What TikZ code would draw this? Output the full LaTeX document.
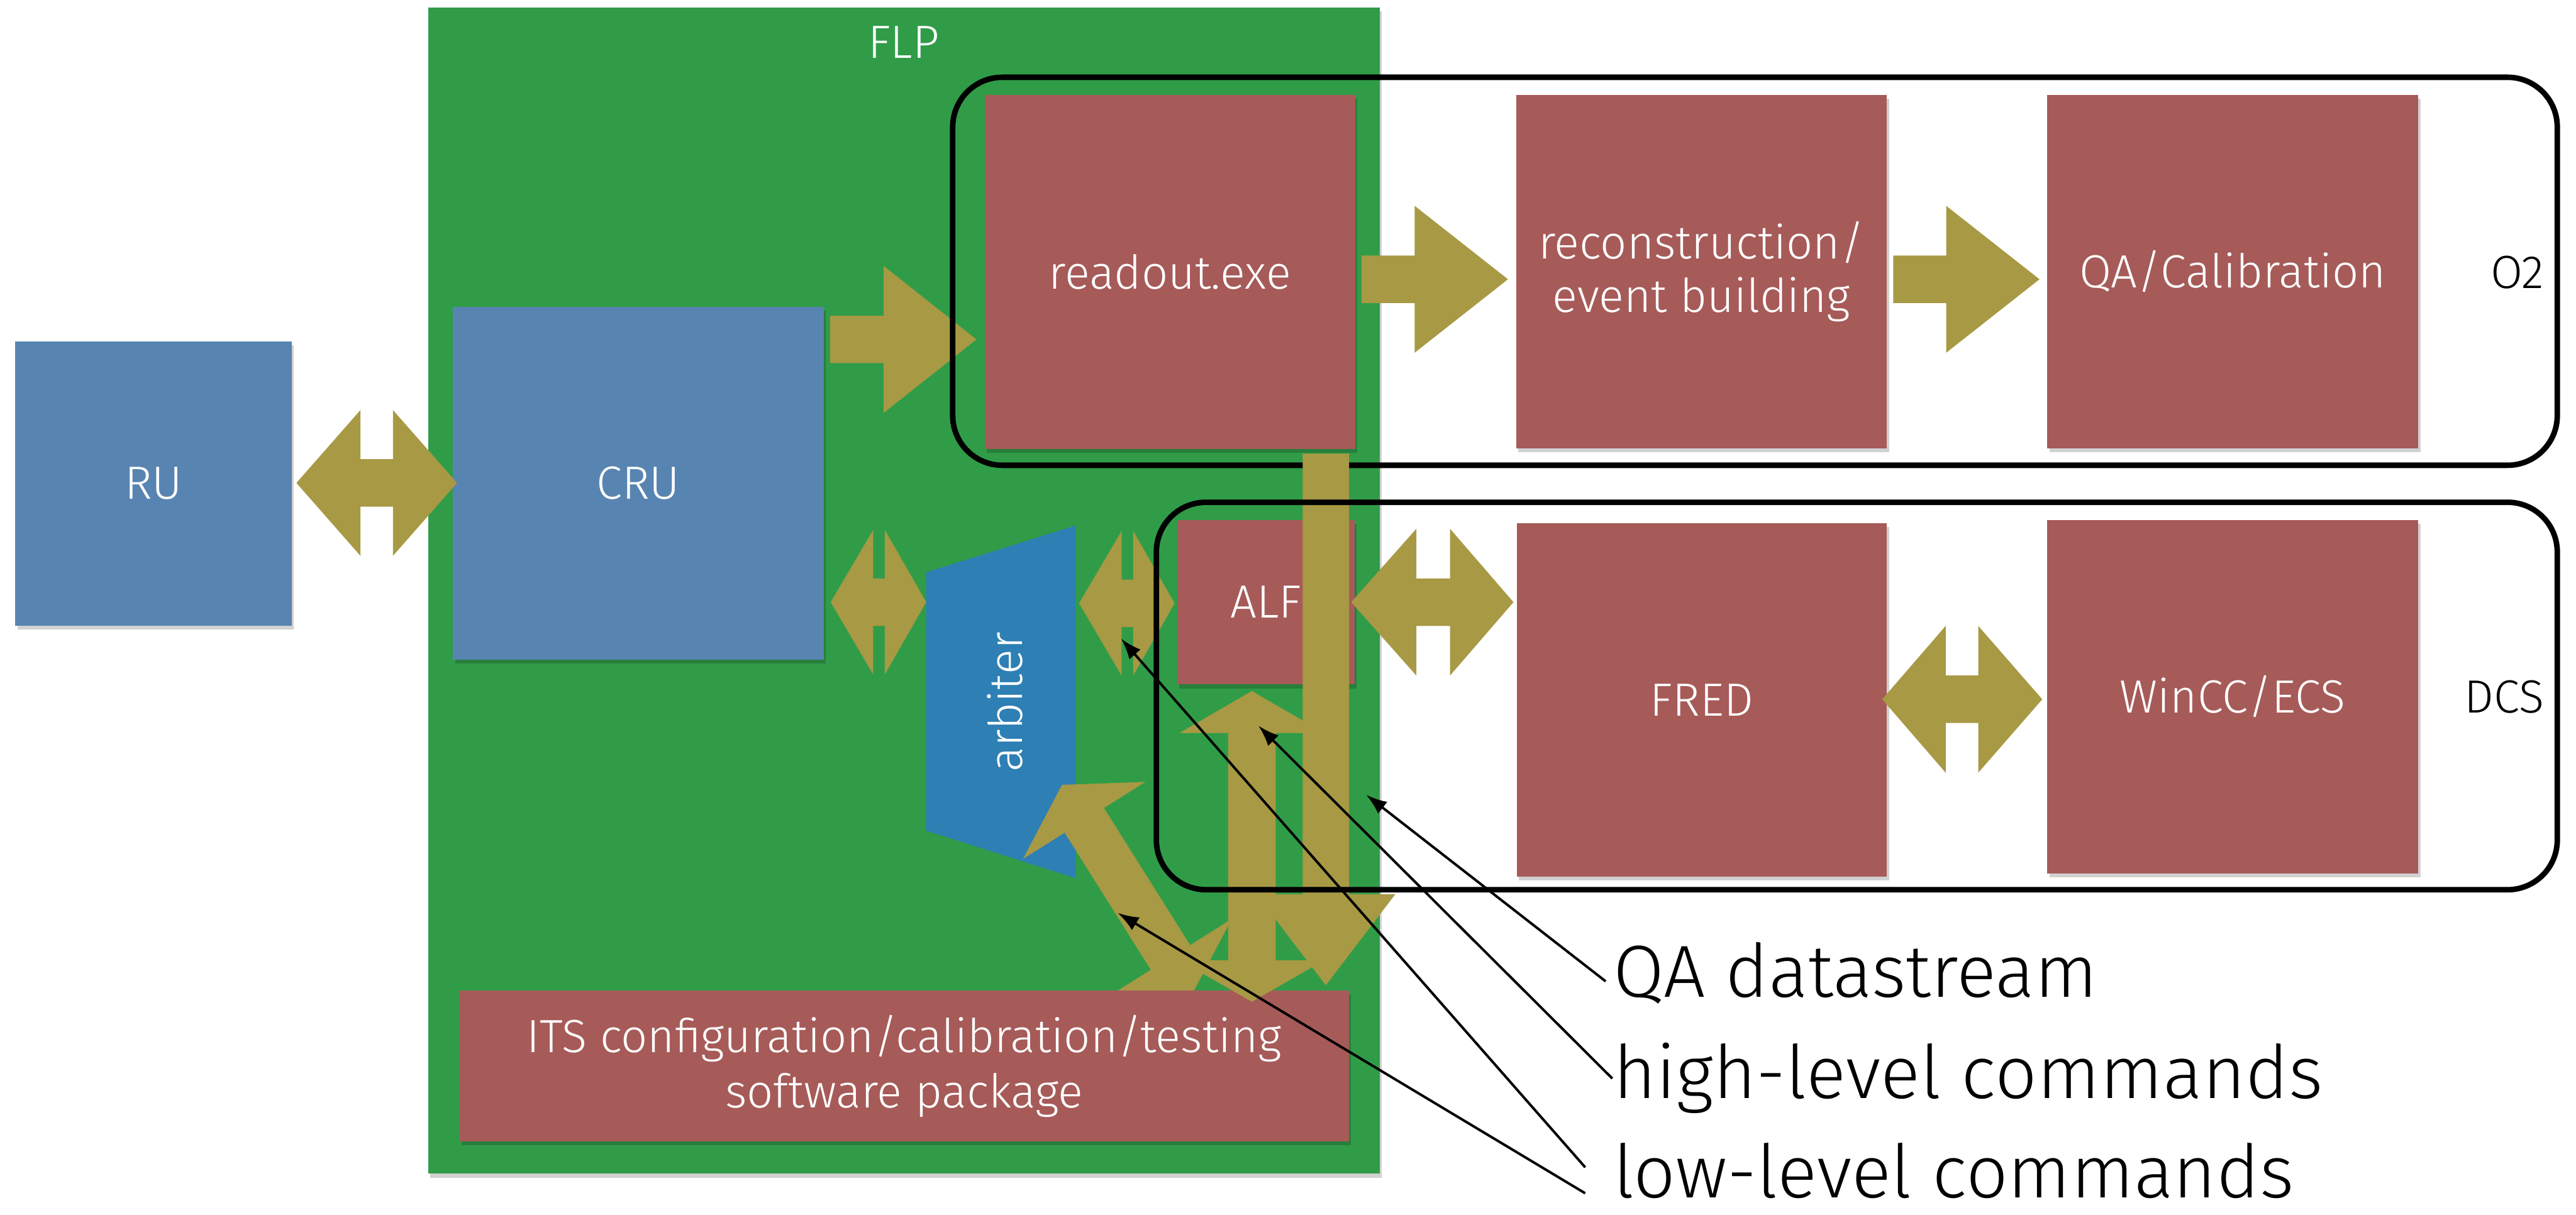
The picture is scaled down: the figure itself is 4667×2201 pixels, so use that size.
\documentclass[tikz,border=0pt]{standalone}
\usepackage{fontspec}
\setmainfont{Fira Sans Light}
\usetikzlibrary{arrows.meta,shadows}
\definecolor{flpgreen}{RGB}{48,156,72}
\definecolor{tanc}{RGB}{168,153,68}
\definecolor{boxred}{RGB}{166,91,89}
\definecolor{boxblue}{RGB}{88,132,177}
\definecolor{arbblue}{RGB}{46,127,180}
\newcommand\hdbl[7]{% tip1, base1, base2, tip2, cy, H, s
  \fill[tanc] (#1,#5) -- (#2,#5-#6) -- (#2,#5-#7) -- (#3,#5-#7) -- (#3,#5-#6) -- (#4,#5)
    -- (#3,#5+#6) -- (#3,#5+#7) -- (#2,#5+#7) -- (#2,#5+#6) -- cycle;}
\newcommand\hsgl[6]{% shaft left, base, tip, cy, H, s
  \fill[tanc] (#1,#4-#6) -- (#2,#4-#6) -- (#2,#4-#5) -- (#3,#4) -- (#2,#4+#5)
    -- (#2,#4+#6) -- (#1,#4+#6) -- cycle;}
\begin{document}
\begin{tikzpicture}[x=0.01cm,y=-0.01cm,
  boxtxt/.style={font=\fontsize{24}{27.6}\selectfont},
  softshadow/.style={drop shadow={shadow xshift=0.04cm, shadow yshift=-0.07cm, opacity=0.18, fill=black}},
  cell/.style={rectangle, inner sep=0, boxtxt, text=white, align=center, softshadow},
  redbox/.style={cell, fill=boxred},
  bluebox/.style={cell, fill=boxblue},
  outline/.style={draw=black, line width=0.1cm, rounded corners=0.9cm},
  ptrlbl/.style={inner sep=0, font=\fontsize{38}{42}\selectfont, text=black},
  ptr/.style={draw=black, line width=0.045cm, -{Latex[length=0.38cm,width=0.27cm]}}]
\useasboundingbox (0,0) rectangle (4667,2201);
% FLP frame
\node[rectangle, inner sep=0, fill=flpgreen, softshadow, minimum width=17.23cm, minimum height=21.12cm] (flp) at (1637.5,1070) {};
\node[boxtxt, text=white, inner sep=0] (flplbl) at (1637,77) {FLP};
% boxes
\node[bluebox, minimum width=5cm, minimum height=5.14cm] (ru) at (278,876) {RU};
\node[bluebox, minimum width=6.71cm, minimum height=6.39cm] (cru) at (1156.5,875.5) {CRU};
\node[redbox, minimum width=6.71cm, minimum height=6.41cm] (readout) at (2119.5,492.5) {readout.exe};
\node[redbox, minimum width=6.71cm, minimum height=6.40cm] (reco) at (3082.5,492) {reconstruction/\\event building};
\node[redbox, minimum width=6.72cm, minimum height=6.40cm] (qacal) at (4045,492) {QA/Calibration};
\node[redbox, minimum width=6.70cm, minimum height=6.40cm] (fred) at (3083,1268) {FRED};
\node[redbox, minimum width=6.72cm, minimum height=6.40cm] (wincc) at (4045,1262) {WinCC/ECS};
\node[redbox, minimum width=3.21cm, minimum height=2.98cm] (alf) at (2293.5,1091) {ALF};
% arbiter
\fill[arbblue] (1678,1037) -- (1949,952) -- (1949,1591) -- (1678,1505) -- cycle;
\node[boxtxt, text=white, rotate=90, inner sep=0] (arbiter) at (1821,1272) {arbiter};
% horizontal fat arrows
\hdbl{537}{653}{712}{828}{875}{132}{43}
\hdbl{1505}{1582}{1603}{1678}{1091}{131}{43}
\hdbl{1955}{2032}{2053}{2128}{1093}{131}{43}
\hdbl{2448}{2566}{2627}{2742}{1091}{133}{43}
\hdbl{3410}{3525}{3584}{3700}{1267}{133}{43}
\hsgl{1504}{1601}{1769}{615}{133}{43}
\hsgl{2467}{2563}{2732}{506}{133}{43}
\hsgl{3430}{3526}{3695}{506}{133}{43}
% O2 outline
\draw[outline] (1726,140) rectangle (4633,843);
% QA datastream bar
\fill[tanc] (2360,822) -- (2444,822) -- (2444,1620) -- (2528,1620) -- (2402,1785) -- (2276,1620) -- (2360,1620) -- cycle;
% diagonal low-level arrow
\fill[tanc] (1924,1422) -- (2075.3,1416.6) -- (2000.0,1463.9) -- (2156.2,1712.4) -- (2231.5,1665.0)
  -- (2161,1799) -- (2009.7,1804.4) -- (2085.0,1757.1) -- (1928.8,1508.7) -- (1853.5,1556.0) -- cycle;
% ITS software box
\node[redbox, minimum width=16.10cm, minimum height=2.73cm, font=\fontsize{24}{28.5}\selectfont] (its) at (1638,1931.5) {ITS configuration/calibration/testing\\software package};
% vertical double arrow
\fill[tanc] (2268,1252) -- (2399,1328) -- (2311,1328) -- (2311,1740) -- (2399,1740) -- (2268,1815)
  -- (2137,1740) -- (2225,1740) -- (2225,1328) -- (2137,1328) -- cycle;
% DCS outline
\draw[outline] (2095,910) rectangle (4633,1612);
% group labels
\node[boxtxt, inner sep=0, anchor=east] (o2) at (4610,493) {O2};
\node[boxtxt, inner sep=0, anchor=east] (dcs) at (4610,1263) {DCS};
% pointer labels
\node[ptrlbl, anchor=base west] (lqa) at (2922,1806) {QA datastream};
\node[ptrlbl, anchor=base west] (lhigh) at (2922,1990) {high-level commands};
\node[ptrlbl, anchor=base west] (llow) at (2922,2170) {low-level commands};
\coordinate (tqa) at (2475,1440);
\coordinate (thigh) at (2280,1315);
\coordinate (tlowa) at (2031,1157);
\coordinate (tlowb) at (2025,1654);
\draw[ptr] ([xshift=-0.13cm,yshift=0.28cm]lqa.base west) -- (tqa);
\draw[ptr] ([xshift=-0.01cm,yshift=0.36cm]lhigh.base west) -- (thigh);
\draw[ptr] ([xshift=-0.50cm,yshift=0.55cm]llow.base west) -- (tlowa);
\draw[ptr] ([xshift=-0.50cm,yshift=0.08cm]llow.base west) -- (tlowb);
\end{tikzpicture}
\end{document}
